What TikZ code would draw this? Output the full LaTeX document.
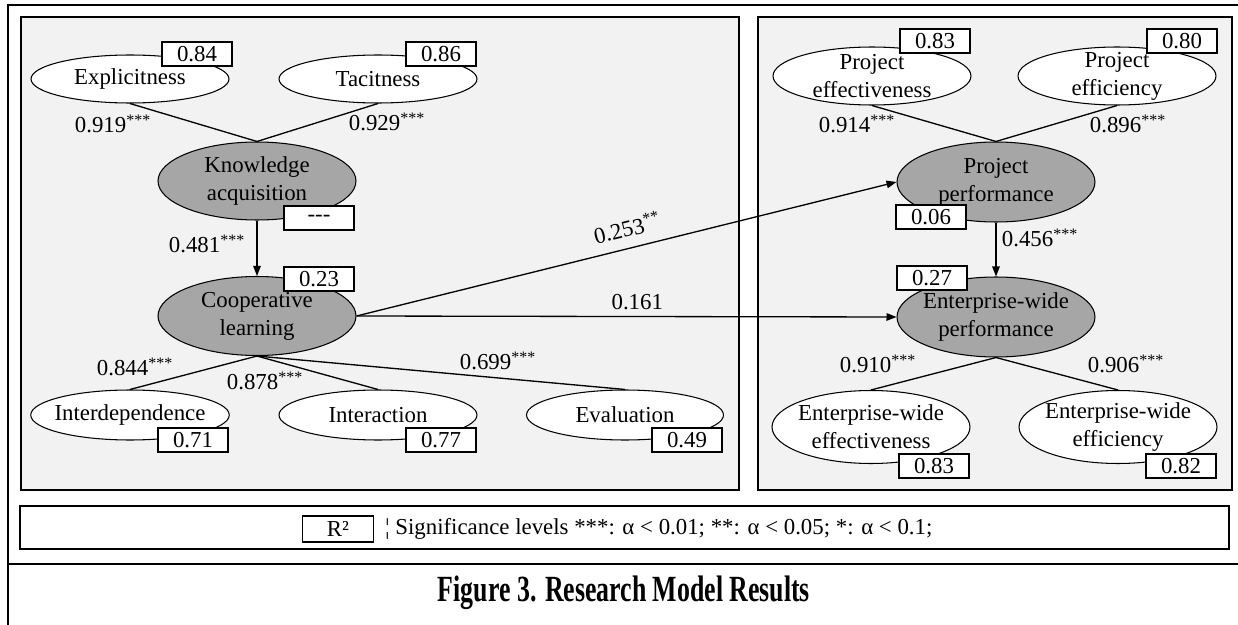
\documentclass[tikz,border=0pt]{standalone}
\usepackage{fontspec}
\setmainfont{Liberation Serif}
\usepackage{graphicx}
\usetikzlibrary{arrows.meta, positioning, shapes.geometric}
\definecolor{panelgray}{HTML}{F2F2F2}
\definecolor{factorgray}{HTML}{A6A6A6}

\begin{document}
\begin{tikzpicture}[
        x=0.02cm, y=-0.02cm,
        panel/.style={draw, line width=1.4pt, fill=panelgray},
        item/.style={ellipse, draw, fill=white, line width=0.6pt, inner xsep=-3pt, inner ysep=-3pt, minimum width=3.96cm, minimum height=#1, align=center, font=\fontsize{13}{16}\selectfont},
        item/.default=1cm,
        factor/.style={item=#1, fill=factorgray},
        rsq/.style={rectangle, draw, fill=white, line width=0.6pt, minimum width=1.4cm, minimum height=0.48cm, inner sep=0pt, font=\fontsize{13}{16}\selectfont},
        coef/.style={inner sep=1pt, font=\fontsize{13}{16}\selectfont},
        link/.style={line width=0.75pt},
        arrow/.style={-{Triangle[length=2mm, width=1.5mm]}, line width=0.75pt}
    ]
        \useasboundingbox (0,0) rectangle (1238,625);
        % frame and panels
        \draw[line width=1.1pt] (8,625) -- (8,5) -- (1238,5);
        \draw[line width=1.1pt] (8,564) -- (1238,564);
        \draw[panel] (21,17) rectangle (739,490);
        \draw[panel] (758,17) rectangle (1232,490);
        \draw[line width=0.8pt] (20,506) rectangle (1229,549);

        % knowledge side
        \node[item=0.96cm] (expl) at (130,79) {Explicitness};
        \node[item=0.96cm] (tac) at (378,79) {Tacitness};
        \node[factor=1.56cm] (ka) at (257,181) {Knowledge\\acquisition};
        \node[factor=1.58cm] (cl) at (257,316) {Cooperative\\learning};
        \node[item] (indep) at (130,415) {Interdependence};
        \node[item] (inter) at (378,415) {Interaction};
        \node[item, minimum width=3.94cm] (eval) at (625,415) {Evaluation};

        % performance side
        \node[item=1.16cm] (peff) at (872,76) {Project\\effectiveness};
        \node[item=1.16cm] (pefc) at (1117,76) {Project\\efficiency};
        \node[factor=1.6cm] (pp) at (996,182) {Project\\performance};
        \node[factor=1.6cm] (ewp) at (996,317) {Enterprise-wide\\performance};
        \node[item=1.46cm] (eweff) at (871,427) {Enterprise-wide\\effectiveness};
        \node[item=1.46cm] (ewefc) at (1118,427) {Enterprise-wide\\efficiency};

        % R2 boxes
        \node[rsq] (r1) at (197,54) {0.84};
        \node[rsq] (r2) at (441,54) {0.86};
        \node[rsq] (r3) at (319,218) {-{}-{}-};
        \node[rsq] (r4) at (319,279) {0.23};
        \node[rsq] (r5) at (193,440) {0.71};
        \node[rsq] (r6) at (441,440) {0.77};
        \node[rsq] (r7) at (687,440) {0.49};
        \node[rsq] (r8) at (935,41) {0.83};
        \node[rsq] (r9) at (1182,41) {0.80};
        \node[rsq] (r10) at (931,217) {0.06};
        \node[rsq] (r11) at (932,278) {0.27};
        \node[rsq] (r12) at (934,466) {0.83};
        \node[rsq] (r13) at (1181,466) {0.82};

        % paths
        \draw[link] (expl.south) -- (ka.north);
        \draw[link] (tac.south) -- (ka.north);
        \draw[arrow] (ka.south) -- (cl.north);
        \draw[link] (cl.south) -- (indep.north);
        \draw[link] (cl.south) -- (inter.north);
        \draw[link] (cl.south) -- (eval.north);
        \draw[arrow] (cl.east) -- node[coef, sloped, above=5pt, pos=0.51] (c253) {0.253\textsuperscript{**}} (pp.west);
        \draw[arrow] (cl.east) -- node[coef, above=2.5pt, pos=0.52] (c161) {0.161} (ewp.west);
        \draw[link] (peff.south) -- (pp.north);
        \draw[link] (pefc.south) -- (pp.north);
        \draw[arrow] (pp.south) -- (ewp.north);
        \draw[link] (ewp.south) -- (eweff.north);
        \draw[link] (ewp.south) -- (ewefc.north);

        % coefficients
        \node[coef] (c919) at (113,124) {0.919\textsuperscript{***}};
        \node[coef] (c929) at (387,122) {0.929\textsuperscript{***}};
        \node[coef] (c481) at (207,244) {0.481\textsuperscript{***}};
        \node[coef] (c844) at (135,367) {0.844\textsuperscript{***}};
        \node[coef] (c878) at (265,381) {0.878\textsuperscript{***}};
        \node[coef] (c699) at (498,361) {0.699\textsuperscript{***}};
        \node[coef] (c914) at (857,124) {0.914\textsuperscript{***}};
        \node[coef] (c896) at (1128,124) {0.896\textsuperscript{***}};
        \node[coef] (c456) at (1040,238) {0.456\textsuperscript{***}};
        \node[coef] (c910) at (878,364) {0.910\textsuperscript{***}};
        \node[coef] (c906) at (1126,364) {0.906\textsuperscript{***}};

        % legend and caption
        \node[rsq, minimum width=1.42cm, minimum height=0.52cm] (key) at (338,529) {R²};
        \node[coef, anchor=west] (keytext) at (383,529) {¦ Significance levels ***: α < 0.01; **: α < 0.05; *: α < 0.1;};
        \node[font=\bfseries\fontsize{21}{24}\selectfont] (caption) at (624,593) {\scalebox{0.7}[1]{Figure 3. Research Model Results}};
    \end{tikzpicture}
\end{document}
